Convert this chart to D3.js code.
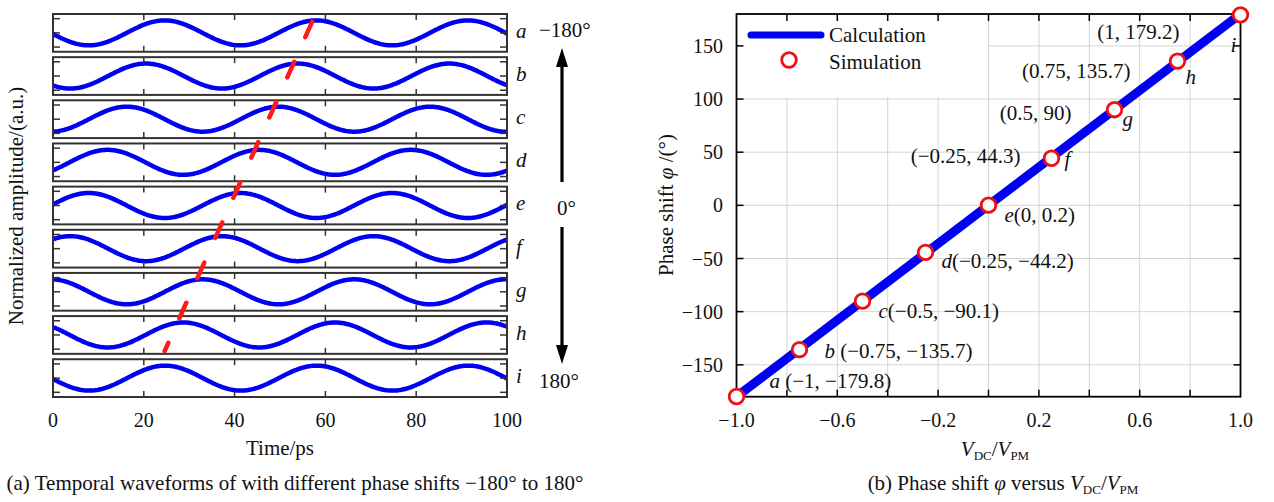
<!DOCTYPE html>
<html lang="en">
    <head>
        <meta charset="utf-8">
        <title>Phase shift waveforms</title>
        <script type="text/javascript" src="https://cdn.jsdelivr.net/npm/d3@7"></script>
        <style>
            body { margin: 0; background: #fff; }
            text { font-family: "Liberation Serif", "Times New Roman", serif; fill: #111; }
        </style>
    </head>
    <body>
        <script type="text/javascript">
            // data
            var panelNames = ["a", "b", "c", "d", "e", "f", "g", "h", "i"];
            var vRatio = [-1, -0.75, -0.5, -0.25, 0, 0.25, 0.5, 0.75, 1];
            var phaseSim = [-179.8, -135.7, -90.1, -44.2, 0.2, 44.3, 90, 135.7, 179.2];
            var calcX = [-1, 1];
            var calcY = [-180, 180];
            var coordText = ["(\u22121, \u2212179.8)", "(\u22120.75, \u2212135.7)", "(\u22120.5, \u221290.1)",
                             "(\u22120.25, \u221244.2)", "(0, 0.2)", "(\u22120.25, 44.3)", "(0.5, 90)",
                             "(0.75, 135.7)", "(1, 179.2)"];
            var timeTicks = [0, 20, 40, 60, 80, 100];
            var timeMinor = [20, 40, 60, 80];
            var ampTicks = [-1, 0, 1];
            var vTicks = [-1, -0.6, -0.2, 0.2, 0.6, 1];
            var vMinor = [-0.8, -0.6, -0.4, -0.2, 0, 0.2, 0.4, 0.6, 0.8];
            var phiTicks = [-150, -100, -50, 0, 50, 100, 150];
            var period = 33.4;      // ps
            var peak0 = 41.3;       // ps, peak time of the 0 deg trace
            var amp = 0.88;
            // red dashed guide: [panel, time, amplitude]
            var guide = [["h", 24.6, -1.13], ["a", 57.1, 0.79]];

            var w = 1274, h = 502;
            var svg = d3.select("body").append("svg")
                .attr("width", w).attr("height", h);

            // ---------- (a) waveforms ----------
            var x0 = d3.scaleLinear().domain([0, 100]).range([53, 507]);
            var band = d3.scaleBand().domain(panelNames).range([14, 397]).paddingInner(0.125);
            var bh = band.bandwidth();
            var yP = d3.scaleLinear().domain([-1.33, 1.33]).range([bh, 0]);
            var samples = d3.range(0, 100.001, 0.25);

            var wave = d3.line()
                .x(function(d) { return x0(d[0]); })
                .y(function(d) { return yP(d[1]); });

            panelNames.forEach(function(name, i) {
                var g = svg.append("g").attr("transform", "translate(0," + band(name) + ")");
                var tp = peak0 - phaseSim[i] / 360 * period;
                var pts = samples.map(function(t) {
                    return [t, amp * Math.cos(2 * Math.PI * (t - tp) / period)];
                });
                g.append("path")
                    .attr("d", wave(pts))
                    .attr("fill", "none")
                    .attr("stroke", "#0000f2")
                    .attr("stroke-width", 4.5);
                // ticks
                g.selectAll(".tt").data(timeMinor).enter().append("line")
                    .attr("x1", function(d) { return x0(d); }).attr("x2", function(d) { return x0(d); })
                    .attr("y1", 0).attr("y2", 6)
                    .attr("stroke", "#333").attr("stroke-width", 1.5);
                g.selectAll(".tb").data(timeMinor).enter().append("line")
                    .attr("x1", function(d) { return x0(d); }).attr("x2", function(d) { return x0(d); })
                    .attr("y1", bh).attr("y2", bh - 6)
                    .attr("stroke", "#333").attr("stroke-width", 1.5);
                g.selectAll(".tl").data(ampTicks).enter().append("line")
                    .attr("x1", x0(0)).attr("x2", x0(0) + 7)
                    .attr("y1", function(d) { return yP(d); }).attr("y2", function(d) { return yP(d); })
                    .attr("stroke", "#333").attr("stroke-width", 1.5);
                g.selectAll(".tr").data(ampTicks).enter().append("line")
                    .attr("x1", x0(100)).attr("x2", x0(100) - 7)
                    .attr("y1", function(d) { return yP(d); }).attr("y2", function(d) { return yP(d); })
                    .attr("stroke", "#333").attr("stroke-width", 1.5);
                g.append("rect")
                    .attr("x", x0(0)).attr("y", 0)
                    .attr("width", x0(100) - x0(0)).attr("height", bh)
                    .attr("fill", "none").attr("stroke", "#333").attr("stroke-width", 2);
                g.append("text")
                    .attr("x", 516).attr("y", bh / 2 + 5)
                    .attr("font-size", "21px").attr("font-style", "italic")
                    .text(name);
            });

            // red dashed guide line
            svg.append("line")
                .attr("x1", x0(guide[1][1])).attr("y1", band(guide[1][0]) + yP(guide[1][2]))
                .attr("x2", x0(guide[0][1])).attr("y2", band(guide[0][0]) + yP(guide[0][2]))
                .attr("stroke", "#ff1a1a").attr("stroke-width", 4.5)
                .attr("stroke-linecap", "round")
                .attr("stroke-dasharray", "17 27");

            // time axis labels
            svg.selectAll(".xl0").data(timeTicks).enter().append("text")
                .attr("x", function(d) { return x0(d); }).attr("y", 427)
                .attr("text-anchor", "middle").attr("font-size", "20px")
                .text(function(d) { return d; });
            svg.append("text").attr("x", 280).attr("y", 455)
                .attr("text-anchor", "middle").attr("font-size", "21px").text("Time/ps");
            svg.append("text").attr("transform", "translate(23,206) rotate(-90)")
                .attr("text-anchor", "middle").attr("font-size", "21px")
                .text("Normalized amplitude/(a.u.)");

            // phase arrows
            var ax = 562;
            svg.append("line").attr("x1", ax).attr("x2", ax).attr("y1", 182).attr("y2", 64)
                .attr("stroke", "#000").attr("stroke-width", 3.2);
            svg.append("path").attr("d", "M" + ax + ",48L" + (ax - 6) + ",67L" + (ax + 6) + ",67Z").attr("fill", "#000");
            svg.append("line").attr("x1", ax).attr("x2", ax).attr("y1", 227).attr("y2", 348)
                .attr("stroke", "#000").attr("stroke-width", 3.2);
            svg.append("path").attr("d", "M" + ax + ",364L" + (ax - 6) + ",345L" + (ax + 6) + ",345Z").attr("fill", "#000");
            svg.append("text").attr("x", 539).attr("y", 37).attr("font-size", "21px").text("\u2212180\u00b0");
            svg.append("text").attr("x", 557).attr("y", 215).attr("font-size", "21px").text("0\u00b0");
            svg.append("text").attr("x", 539).attr("y", 388).attr("font-size", "21px").text("180\u00b0");

            svg.append("text").attr("x", 295).attr("y", 490)
                .attr("text-anchor", "middle").attr("font-size", "21px")
                .text("(a) Temporal waveforms of with different phase shifts \u2212180\u00b0 to 180\u00b0");

            // ---------- (b) phase shift ----------
            var x1 = d3.scaleLinear().domain([-1, 1]).range([736.5, 1240.5]);
            var y1 = d3.scaleLinear().domain([-180, 180]).range([396.7, 14]);

            // grid
            svg.selectAll(".gx").data(vMinor).enter().append("line")
                .attr("x1", function(d) { return x1(d); }).attr("x2", function(d) { return x1(d); })
                .attr("y1", y1(180)).attr("y2", y1(-180))
                .attr("stroke", "#d4d4d4").attr("stroke-width", 1);
            svg.selectAll(".gy").data(phiTicks).enter().append("line")
                .attr("x1", x1(-1)).attr("x2", x1(1))
                .attr("y1", function(d) { return y1(d); }).attr("y2", function(d) { return y1(d); })
                .attr("stroke", "#d4d4d4").attr("stroke-width", 1);

            // legend background hides the grid
            svg.append("rect").attr("x", x1(-1) + 1).attr("y", y1(180) + 1)
                .attr("width", x1(0) - x1(-1) - 2).attr("height", y1(100) - y1(180) - 3)
                .attr("fill", "#fff");

            // ticks on all four sides
            var tk = 7;
            svg.selectAll(".tkb").data(vMinor).enter().append("line")
                .attr("x1", function(d) { return x1(d); }).attr("x2", function(d) { return x1(d); })
                .attr("y1", y1(-180)).attr("y2", y1(-180) - tk)
                .attr("stroke", "#000").attr("stroke-width", 1.5);
            svg.selectAll(".tkt").data(vMinor).enter().append("line")
                .attr("x1", function(d) { return x1(d); }).attr("x2", function(d) { return x1(d); })
                .attr("y1", y1(180)).attr("y2", y1(180) + tk)
                .attr("stroke", "#000").attr("stroke-width", 1.5);
            svg.selectAll(".tkl").data(phiTicks).enter().append("line")
                .attr("x1", x1(-1)).attr("x2", x1(-1) + tk)
                .attr("y1", function(d) { return y1(d); }).attr("y2", function(d) { return y1(d); })
                .attr("stroke", "#000").attr("stroke-width", 1.5);
            svg.selectAll(".tkr").data(phiTicks).enter().append("line")
                .attr("x1", x1(1)).attr("x2", x1(1) - tk)
                .attr("y1", function(d) { return y1(d); }).attr("y2", function(d) { return y1(d); })
                .attr("stroke", "#000").attr("stroke-width", 1.5);

            svg.append("rect").attr("x", x1(-1)).attr("y", y1(180))
                .attr("width", x1(1) - x1(-1)).attr("height", y1(-180) - y1(180))
                .attr("fill", "none").attr("stroke", "#000").attr("stroke-width", 1.8);

            // calculation line
            var calc = calcX.map(function(d, i) { return [d, calcY[i]]; });
            svg.append("path")
                .attr("d", d3.line().x(function(d) { return x1(d[0]); }).y(function(d) { return y1(d[1]); })(calc))
                .attr("fill", "none").attr("stroke", "#0000f2").attr("stroke-width", 9);

            // simulation points
            svg.selectAll("circle.sim").data(vRatio).enter().append("circle")
                .attr("class", "sim")
                .attr("cx", function(d) { return x1(d); })
                .attr("cy", function(d, i) { return y1(phaseSim[i]); })
                .attr("r", 7.3)
                .attr("fill", "#fff").attr("stroke", "#f01010").attr("stroke-width", 2.8);

            // point labels: coords text offset, letter offset (px from marker)
            var labelPos = [
                { inline: " ", dx: 33, dy: -8 },
                { inline: " ", dx: 25, dy: 8 },
                { inline: "", dx: 16, dy: 17 },
                { inline: "", dx: 16, dy: 16 },
                { inline: "", dx: 16, dy: 17 },
                { cdx: -31, cdy: 5, ldx: 13, ldy: 8 },
                { cdx: -43, cdy: 10, ldx: 8, ldy: 16 },
                { cdx: -47, cdy: 17, ldx: 8, ldy: 23 },
                { cdx: -61, cdy: 24, ldx: -10, ldy: 37 }
            ];
            vRatio.forEach(function(v, i) {
                var px = x1(v), py = y1(phaseSim[i]), p = labelPos[i];
                if (p.inline !== undefined) {
                    var t = svg.append("text").attr("x", px + p.dx).attr("y", py + p.dy).attr("font-size", "21px");
                    t.append("tspan").attr("font-style", "italic").text(panelNames[i]);
                    t.append("tspan").text(p.inline + coordText[i]);
                } else {
                    svg.append("text").attr("x", px + p.cdx).attr("y", py + p.cdy)
                        .attr("text-anchor", "end").attr("font-size", "21px").text(coordText[i]);
                    svg.append("text").attr("x", px + p.ldx).attr("y", py + p.ldy)
                        .attr("font-size", "21px").attr("font-style", "italic").text(panelNames[i]);
                }
            });

            // axis tick labels
            svg.selectAll(".xl1").data(vTicks).enter().append("text")
                .attr("x", function(d) { return x1(d); }).attr("y", 427)
                .attr("text-anchor", "middle").attr("font-size", "20px")
                .text(function(d) { return d3.format(".1f")(d).replace("-", "\u2212"); });
            svg.selectAll(".yl1").data(phiTicks).enter().append("text")
                .attr("x", 723).attr("y", function(d) { return y1(d); }).attr("dy", "0.35em")
                .attr("text-anchor", "end").attr("font-size", "20px")
                .text(function(d) { return String(d).replace("-", "\u2212"); });

            // axis titles
            var yt = svg.append("text").attr("transform", "translate(673,205) rotate(-90)")
                .attr("text-anchor", "middle").attr("font-size", "21px");
            yt.append("tspan").text("Phase shift ");
            yt.append("tspan").attr("font-style", "italic").text("\u03c6");
            yt.append("tspan").text(" /(\u00b0)");

            function vdcvpm(sel) {
                sel.append("tspan").attr("font-style", "italic").text("V");
                sel.append("tspan").attr("font-size", "13px").attr("dy", 4).text("DC");
                sel.append("tspan").attr("dy", -4).text("/");
                sel.append("tspan").attr("font-style", "italic").text("V");
                sel.append("tspan").attr("font-size", "13px").attr("dy", 4).text("PM");
            }
            var xt = svg.append("text").attr("x", 995).attr("y", 456)
                .attr("text-anchor", "middle").attr("font-size", "21px");
            vdcvpm(xt);

            var cap = svg.append("text").attr("x", 1003).attr("y", 490)
                .attr("text-anchor", "middle").attr("font-size", "21px");
            cap.append("tspan").text("(b) Phase shift ");
            cap.append("tspan").attr("font-style", "italic").text("\u03c6");
            cap.append("tspan").text(" versus ");
            vdcvpm(cap);

            // legend
            svg.append("line").attr("x1", 751).attr("x2", 821).attr("y1", 35).attr("y2", 35)
                .attr("stroke", "#0000f2").attr("stroke-width", 7).attr("stroke-linecap", "round");
            svg.append("circle").attr("cx", 789).attr("cy", 60).attr("r", 7.3)
                .attr("fill", "#fff").attr("stroke", "#f01010").attr("stroke-width", 2.8);
            svg.append("text").attr("x", 829).attr("y", 42).attr("font-size", "21px").text("Calculation");
            svg.append("text").attr("x", 829).attr("y", 69).attr("font-size", "21px").text("Simulation");
        </script>
    </body>
</html>
